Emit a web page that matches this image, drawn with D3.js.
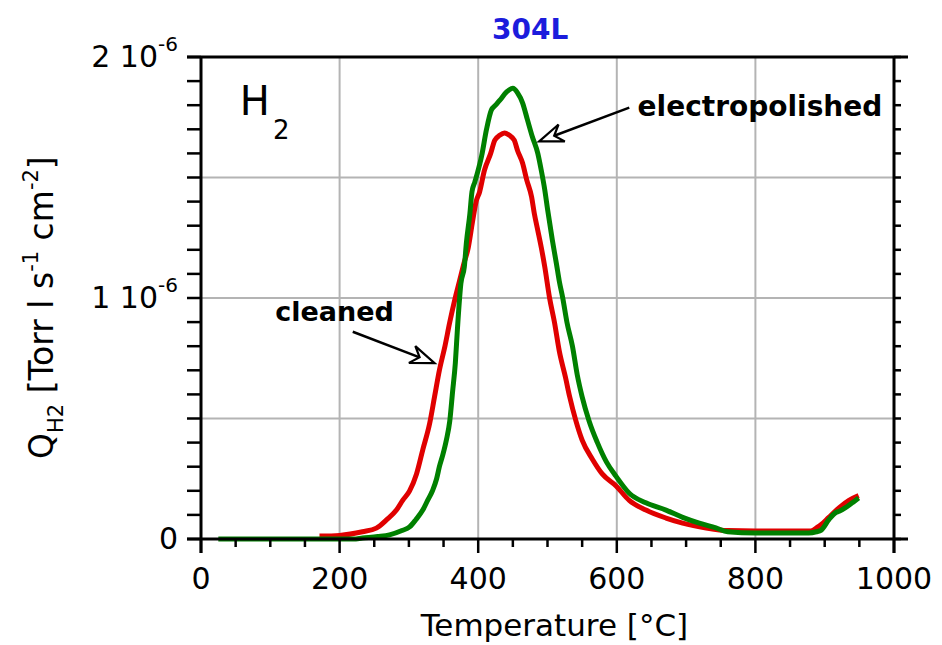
<!DOCTYPE html>
<html>
<head>
<meta charset="utf-8">
<script src="https://cdn.jsdelivr.net/npm/d3@7"></script>
<style>
  html, body { margin: 0; padding: 0; background: #fff; }
  svg { display: block; font-family: "DejaVu Sans", sans-serif; }
</style>
</head>
<body>
<svg id="chart" width="942" height="645"></svg>
<script>
// ---- data (Q in units of 1e-6 Torr l s^-1 cm^-2) ----
const chartTitle = "304L";
const xTickLabels = [0, 200, 400, 600, 800, 1000];
const yTickValues = [0, 1, 2];
const yTickLabels = ["0", "1 10", "2 10"];

const tempElectropolished = [25, 60, 100, 140, 180, 220, 233, 255, 272, 290, 301, 310, 320, 327, 334, 340, 344, 349, 354, 359, 363, 367, 370, 375, 380, 383, 388, 391, 395, 399, 405, 412, 419, 425, 431, 441, 450, 457, 464, 471, 478, 486, 491, 496, 500, 507, 513, 517, 522, 528, 536, 543, 550, 560, 572, 585, 599, 618, 642, 671, 695, 719, 743, 760, 800, 840, 877, 888, 895, 906, 916, 921, 930, 935, 942, 949];
const qElectropolished = [0, 0, 0, 0, 0, 0, 0.004, 0.01, 0.017, 0.035, 0.05, 0.08, 0.12, 0.16, 0.20, 0.25, 0.30, 0.35, 0.41, 0.49, 0.61, 0.73, 0.87, 1.06, 1.13, 1.23, 1.35, 1.44, 1.48, 1.52, 1.59, 1.70, 1.78, 1.80, 1.82, 1.855, 1.87, 1.85, 1.81, 1.74, 1.67, 1.60, 1.53, 1.45, 1.37, 1.24, 1.14, 1.07, 1.0, 0.90, 0.80, 0.68, 0.59, 0.49, 0.40, 0.32, 0.26, 0.19, 0.15, 0.12, 0.09, 0.066, 0.046, 0.03, 0.025, 0.025, 0.025, 0.03, 0.037, 0.08, 0.11, 0.115, 0.13, 0.14, 0.155, 0.17];

const tempCleaned = [171, 200, 233, 253, 268, 282, 291, 301, 311, 320, 330, 337, 344, 352, 359, 366, 373, 380, 385, 392, 397, 402, 409, 418, 424, 431, 438, 445, 452, 457, 464, 470, 477, 481, 486, 491, 496, 503, 510, 517, 526, 532, 541, 550, 565, 579, 599, 618, 642, 671, 695, 729, 760, 800, 840, 880, 890, 895, 906, 921, 935, 949];
const qCleaned = [0.012, 0.015, 0.03, 0.045, 0.08, 0.12, 0.16, 0.20, 0.27, 0.37, 0.48, 0.59, 0.70, 0.80, 0.90, 0.99, 1.07, 1.15, 1.20, 1.32, 1.40, 1.44, 1.53, 1.60, 1.655, 1.675, 1.685, 1.675, 1.655, 1.61, 1.56, 1.49, 1.42, 1.35, 1.28, 1.21, 1.13, 1.0, 0.90, 0.78, 0.67, 0.59, 0.49, 0.41, 0.33, 0.27, 0.22, 0.16, 0.12, 0.087, 0.066, 0.046, 0.035, 0.033, 0.033, 0.033, 0.05, 0.06, 0.09, 0.13, 0.16, 0.18];

const seriesNames = ["cleaned", "electropolished"];
const seriesColors = ["#e00000", "#008000"];

// ---- layout ----
const svg = d3.select("#chart");
const x = d3.scaleLinear().domain([0, 1000]).range([201, 894]);
const y = d3.scaleLinear().domain([0, 2]).range([539, 57]);

// grid
const grid = svg.append("g").attr("stroke", "#b4b4b4").attr("stroke-width", 2);
[200, 400, 600, 800].forEach(v => grid.append("line")
  .attr("x1", x(v)).attr("x2", x(v)).attr("y1", y(0)).attr("y2", y(2)));
[0.5, 1, 1.5].forEach(v => grid.append("line")
  .attr("x1", x(0)).attr("x2", x(1000)).attr("y1", y(v)).attr("y2", y(v)));

// curves
const line = d3.line().x(d => x(d[0])).y(d => y(d[1])).curve(d3.curveMonotoneX);
const cleaned = tempCleaned.map((t, i) => [t, qCleaned[i]]);
const electro = tempElectropolished.map((t, i) => [t, qElectropolished[i]]);
svg.append("path").datum(cleaned).attr("d", line)
  .attr("fill", "none").attr("stroke", seriesColors[0]).attr("stroke-width", 5);
svg.append("path").datum(electro).attr("d", line)
  .attr("fill", "none").attr("stroke", seriesColors[1]).attr("stroke-width", 5);

// axes frame
const ax = svg.append("g").attr("stroke", "#000").attr("stroke-width", 3).attr("stroke-linecap", "butt");
ax.append("line").attr("x1", 187).attr("x2", 908).attr("y1", y(0)).attr("y2", y(0));
ax.append("line").attr("x1", 187).attr("x2", 908).attr("y1", y(2)).attr("y2", y(2));
ax.append("line").attr("x1", x(0)).attr("x2", x(0)).attr("y1", y(2)).attr("y2", 553);
ax.append("line").attr("x1", x(1000)).attr("x2", x(1000)).attr("y1", y(2)).attr("y2", 553);

// ticks
const xt = svg.append("g").attr("stroke", "#000").attr("stroke-width", 2.5);
d3.range(0, 1001, 50).forEach(v => {
  const major = v % 200 === 0;
  xt.append("line").attr("x1", x(v)).attr("x2", x(v))
    .attr("y1", y(0)).attr("y2", y(0) + (major ? 14 : 8));
});
d3.range(0, 2.0001, 0.1).forEach(v => {
  xt.append("line").attr("x1", x(0) - 14).attr("x2", x(0)).attr("y1", y(v)).attr("y2", y(v));
  xt.append("line").attr("x1", x(1000)).attr("x2", x(1000) + 7).attr("y1", y(v)).attr("y2", y(v));
});

// x tick labels
svg.append("g").selectAll("text").data(xTickLabels).join("text")
  .attr("x", d => x(d)).attr("y", 589).attr("text-anchor", "middle")
  .attr("font-size", 30).attr("fill", "#000").text(d => d);

// y tick labels
const yl = svg.append("g");
yTickValues.forEach((v, i) => {
  const t = yl.append("text").attr("x", 178).attr("y", y(v) + 10)
    .attr("text-anchor", "end").attr("font-size", 30).attr("fill", "#000");
  t.append("tspan").text(yTickLabels[i]);
  if (v !== 0) {
    t.append("tspan").attr("dy", -16).attr("font-size", 20).text("-6");
  }
});

// axis titles
svg.append("text").attr("x", x(510)).attr("y", 636).attr("text-anchor", "middle")
  .attr("font-size", 31).attr("fill", "#000").text("Temperature [°C]");

const yt = svg.append("text")
  .attr("transform", `translate(53,${y(0.96)}) rotate(-90)`)
  .attr("text-anchor", "middle").attr("font-size", 33).attr("fill", "#000");
yt.append("tspan").text("Q");
yt.append("tspan").attr("font-size", 21).attr("dy", 10).text("H2");
yt.append("tspan").attr("dy", -10).text(" [Torr l s");
yt.append("tspan").attr("font-size", 21).attr("dy", -15).text("-1");
yt.append("tspan").attr("dy", 15).text(" cm");
yt.append("tspan").attr("font-size", 21).attr("dy", -15).text("-2");
yt.append("tspan").attr("dy", 15).text("]");

// title
svg.append("text").attr("x", x(475)).attr("y", 39).attr("text-anchor", "middle")
  .attr("font-size", 28).attr("font-weight", "bold").attr("fill", "#1c1cdc").text(chartTitle);

// H2 label
const h2 = svg.append("text").attr("x", x(56)).attr("y", y(1.76))
  .attr("font-size", 40).attr("fill", "#000");
h2.append("tspan").text("H");
h2.append("tspan").attr("font-size", 26).attr("dy", 24).attr("dx", 3).text("2");

// annotations
function arrow(tail, tip) {
  const x0 = x(tail[0]), y0 = y(tail[1]), x1 = x(tip[0]), y1 = y(tip[1]);
  const ang = Math.atan2(y1 - y0, x1 - x0);
  const L = 24, wdt = 9, notch = 16;
  const ux = Math.cos(ang), uy = Math.sin(ang);
  const px = -uy, py = ux;
  const bx = x1 - ux * L, by = y1 - uy * L;
  const nx = x1 - ux * notch, ny = y1 - uy * notch;
  svg.append("line").attr("x1", x0).attr("y1", y0).attr("x2", nx).attr("y2", ny)
    .attr("stroke", "#000").attr("stroke-width", 2.5);
  svg.append("path")
    .attr("d", `M${x1},${y1} L${bx + px * wdt},${by + py * wdt} L${nx},${ny} L${bx - px * wdt},${by - py * wdt} Z`)
    .attr("fill", "#fff").attr("stroke", "#000").attr("stroke-width", 2.2).attr("stroke-linejoin", "miter");
}
arrow([618, 1.79], [488, 1.65]);
arrow([219, 0.86], [337, 0.73]);

svg.append("text").attr("x", x(630)).attr("y", y(1.755)).attr("font-size", 28)
  .attr("font-weight", "bold").attr("fill", "#000").text(seriesNames[1]);
svg.append("text").attr("x", x(107)).attr("y", y(0.905)).attr("font-size", 27)
  .attr("font-weight", "bold").attr("fill", "#000").text(seriesNames[0]);
</script>
</body>
</html>
